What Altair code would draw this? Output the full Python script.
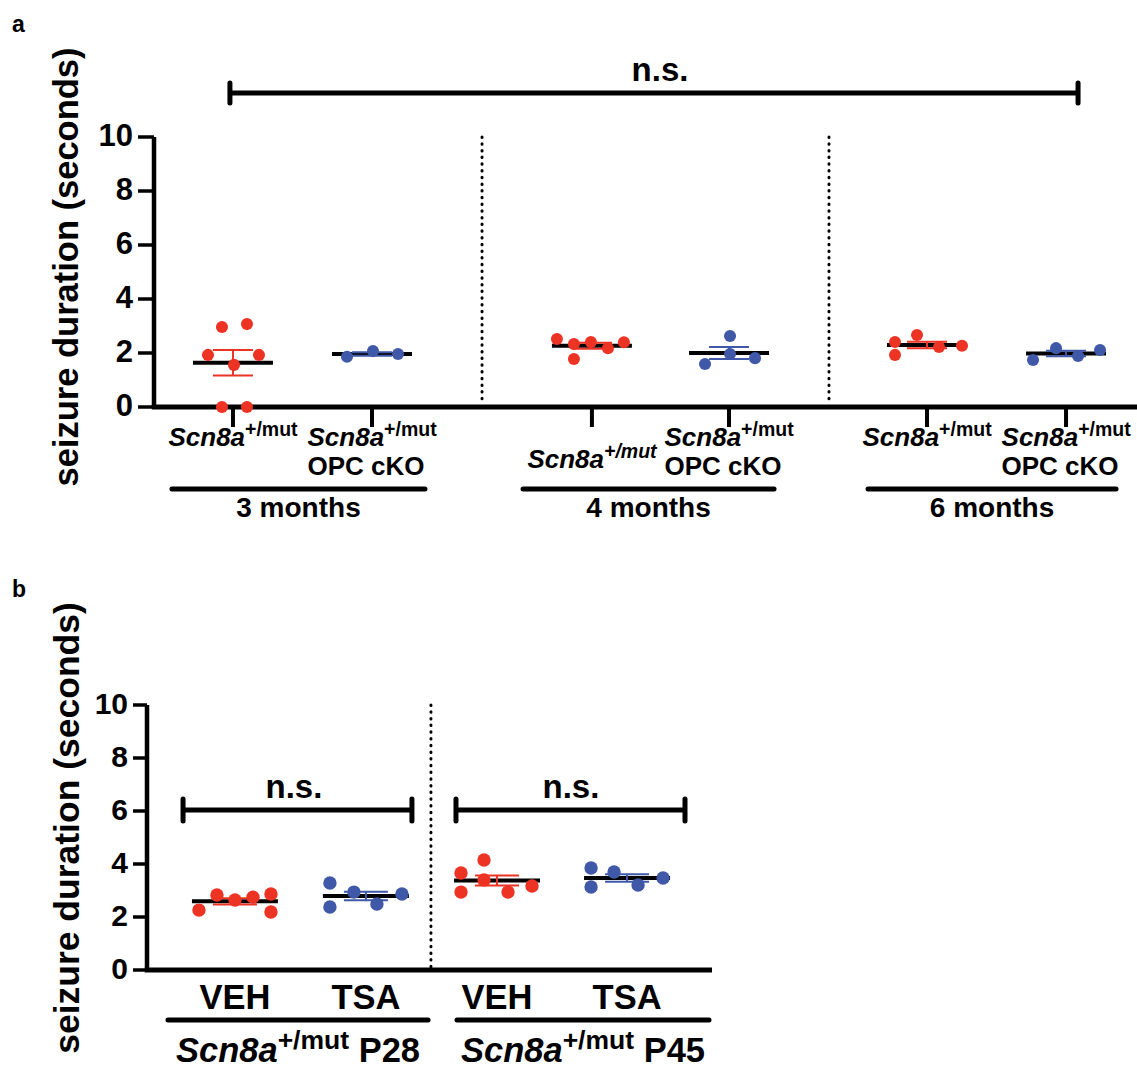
import altair as alt
import numpy as np
import pandas as pd

# ================= DATA =================
# panel a : seizure duration (seconds)
A_AGES = ["3 months", "4 months", "6 months"]
A_HET_3MO = [2.96, 3.07, 1.93, 1.93, 1.56, 0.0, 0.0]
A_CKO_3MO = [1.86, 2.07, 1.96]
A_HET_4MO = [2.52, 2.33, 1.78, 2.41, 2.18, 2.40]
A_CKO_4MO = [2.63, 1.96, 1.59, 1.81]
A_HET_6MO = [2.41, 1.93, 2.67, 2.22, 2.27]
A_CKO_6MO = [1.74, 2.18, 1.89, 2.11]
# panel b : seizure duration (seconds)
B_TREAT = ["VEH", "TSA", "VEH", "TSA"]
B_AGES = ["P28", "P45"]
B_VEH_P28 = [2.26, 2.83, 2.64, 2.75, 2.87, 2.19]
B_TSA_P28 = [3.28, 2.38, 2.94, 2.49, 2.87]
B_VEH_P45 = [3.66, 2.94, 4.15, 3.40, 2.94, 3.17]
B_TSA_P45 = [3.85, 3.13, 3.70, 3.21, 3.47]
Y_TICKS = [0, 2, 4, 6, 8, 10]

# ================= LAYOUT / STYLE =================
RED = "#EC3324"
BLUE = "#3F58A8"
FONT = "Liberation Sans"
W, H = 1137, 1068

# panel a frame (canvas pixels)
AX0, AX1, AY0, AY10 = 154, 1137, 407, 137
XA_MAX = 7.12
PXA = (AX1 - AX0) / XA_MAX
XA = alt.Scale(domain=[0, XA_MAX], range=[AX0, AX1])
YA = alt.Scale(domain=[0, 10], range=[AY0, AY10])
CAT_A = [0.572, 1.579, 3.172, 4.165, 5.599, 6.606]      # category slots
KIND_A = ["het", "cko"] * 3
# beeswarm offsets (px) of the points around their category
JIT_A = [[-11, 14, -25, 26, 1, -11, 14], [-25, 1, 26],
         [-35, -18, -18, -1, 16, 32], [1, 1, -24, 26],
         [-32, -32, -10, 12, 35], [-33, -10, 12, 34]]

# panel b frame
BX0, BX1, BY0, BY10 = 147, 712, 970, 705
XB_MAX = 4.31
PXB = (BX1 - BX0) / XB_MAX
XB = alt.Scale(domain=[0, XB_MAX], range=[BX0, BX1])
YB = alt.Scale(domain=[0, 10], range=[BY0, BY10])
CAT_B = [0.671, 1.670, 2.670, 3.662]
KIND_B = ["het", "cko"] * 2
JIT_B = [[-36, -18, 0, 18, 36, 36], [-36, -36, -12, 11, 36],
         [-36, -36, -13, -13, 11, 35], [-36, -36, -13, 11, 36]]

COLOR = alt.Color("kind:N", scale=alt.Scale(domain=["het", "cko"], range=[RED, BLUE]), legend=None)

layers = []


def txt(df, **kw):
    base = dict(font=FONT, fontWeight="bold", color="black", baseline="alphabetic")
    base.update(kw)
    return alt.Chart(df).mark_text(**base)


def points_df(series, cats, kinds, jit, px):
    rows = []
    for vals, c, k, j in zip(series, cats, kinds, jit):
        for v, dj in zip(vals, j):
            rows.append({"x": c + dj / px, "y": v, "kind": k})
    return pd.DataFrame(rows)


def stats_df(series, cats, kinds, hw, cw):
    rows = []
    for vals, c, k in zip(series, cats, kinds):
        m = float(np.mean(vals))
        s = float(np.std(vals, ddof=1) / np.sqrt(len(vals)))
        rows.append({"x": c, "xl": c - hw, "xr": c + hw, "cl": c - cw, "cr": c + cw,
                     "m": m, "lo": m - s, "hi": m + s, "kind": k})
    return pd.DataFrame(rows)


def panel(series, cats, kinds, jit, px, XS, YS, x0, x1, ytick_x, ylab_x, mean_hw, cap_hw, lab_fs, psize):
    # axes
    ax = pd.DataFrame({"y0": [0], "y1": [10]})
    layers.append(alt.Chart(ax).mark_rule(color="black", strokeWidth=4.5).encode(
        x=alt.value(x0), y=alt.Y("y0:Q", scale=YS, axis=None), y2="y1:Q"))
    layers.append(alt.Chart(ax).mark_rule(color="black", strokeWidth=5).encode(
        x=alt.value(x0 - 2.2), x2=alt.value(x1), y=alt.Y("y0:Q", scale=YS, axis=None)))
    tk = pd.DataFrame({"t": Y_TICKS, "lab": [str(t) for t in Y_TICKS]})
    layers.append(alt.Chart(tk).mark_rule(color="black", strokeWidth=3.5).encode(
        x=alt.value(ytick_x), x2=alt.value(x0), y=alt.Y("t:Q", scale=YS, axis=None)))
    layers.append(txt(tk, fontSize=lab_fs, align="right", baseline="middle").encode(
        x=alt.value(ylab_x), y=alt.Y("t:Q", scale=YS, axis=None), text="lab:N"))
    # mean and SEM
    st = stats_df(series, cats, kinds, mean_hw, cap_hw)
    layers.append(alt.Chart(st).mark_rule(color="black", strokeWidth=4).encode(
        x=alt.X("xl:Q", scale=XS, axis=None), x2="xr:Q", y=alt.Y("m:Q", scale=YS, axis=None)))
    layers.append(alt.Chart(st).mark_rule(strokeWidth=2).encode(
        x=alt.X("x:Q", scale=XS, axis=None), y=alt.Y("lo:Q", scale=YS, axis=None), y2="hi:Q", color=COLOR))
    for f in ["lo", "hi"]:
        layers.append(alt.Chart(st).mark_rule(strokeWidth=2).encode(
            x=alt.X("cl:Q", scale=XS, axis=None), x2="cr:Q",
            y=alt.Y(f + ":Q", scale=YS, axis=None), color=COLOR))
    # points
    pt = points_df(series, cats, kinds, jit, px)
    layers.append(alt.Chart(pt).mark_circle(size=psize, opacity=1).encode(
        x=alt.X("x:Q", scale=XS, axis=None), y=alt.Y("y:Q", scale=YS, axis=None), color=COLOR))


def dotted(xs, XS, ytop, ybot):
    d = pd.DataFrame({"d": xs})
    layers.append(alt.Chart(d).mark_rule(color="black", strokeWidth=3, strokeDash=[0.5, 6.2],
                                         strokeCap="round").encode(
        x=alt.X("d:Q", scale=XS, axis=None), y=alt.value(ytop), y2=alt.value(ybot)))


def bracket(xa, xb, XS, ypx, half, xt, tpx):
    d = pd.DataFrame({"x0": xa, "x1": xb})
    layers.append(alt.Chart(d).mark_rule(color="black", strokeWidth=5).encode(
        x=alt.X("x0:Q", scale=XS, axis=None), x2="x1:Q", y=alt.value(ypx)))
    c = pd.DataFrame({"c": list(xa) + list(xb)})
    layers.append(alt.Chart(c).mark_rule(color="black", strokeWidth=5, strokeCap="round").encode(
        x=alt.X("c:Q", scale=XS, axis=None), y=alt.value(ypx - half), y2=alt.value(ypx + half)))
    t = pd.DataFrame({"x": xt, "t": ["n.s."] * len(xt)})
    layers.append(txt(t, fontSize=33, align="center").encode(
        x=alt.X("x:Q", scale=XS, axis=None), y=alt.value(tpx), text="t:N"))


# ------------------------------ panel a ------------------------------
A_SERIES = [A_HET_3MO, A_CKO_3MO, A_HET_4MO, A_CKO_4MO, A_HET_6MO, A_CKO_6MO]
dotted([2.376, 4.889], XA, AY10, AY0 - 3)
bracket([0.55], [6.693], XA, 93, 10, [3.665], 81)
panel(A_SERIES, CAT_A, KIND_A, JIT_A, PXA, XA, YA, AX0, AX1, 138, 133, 40 / PXA, 20 / PXA, 31, 145)
# x ticks
layers.append(alt.Chart(pd.DataFrame({"c": CAT_A})).mark_rule(color="black", strokeWidth=4).encode(
    x=alt.X("c:Q", scale=XA, axis=None), y=alt.value(AY0), y2=alt.value(AY0 + 20)))
# category labels
W_SCN = 2.946 * 26
top_idx = [0, 1, 3, 4, 5]
top = pd.DataFrame({"x": [CAT_A[i] for i in top_idx], "a": ["Scn8a"] * 5, "s": ["+/mut"] * 5})
layers.append(txt(top, fontSize=26, fontStyle="italic", align="left", dx=-64.5).encode(
    x=alt.X("x:Q", scale=XA, axis=None), y=alt.value(446), text="a:N"))
layers.append(txt(top, fontSize=19.5, align="left", dx=-64.5 + W_SCN).encode(
    x=alt.X("x:Q", scale=XA, axis=None), y=alt.value(436), text="s:N"))
low = pd.DataFrame({"x": [CAT_A[2]], "a": ["Scn8a"], "s": ["+/mut"]})
layers.append(txt(low, fontSize=26, fontStyle="italic", align="left", dx=-64.5).encode(
    x=alt.X("x:Q", scale=XA, axis=None), y=alt.value(468), text="a:N"))
layers.append(txt(low, fontSize=19.5, fontStyle="italic", align="left", dx=-64.5 + W_SCN).encode(
    x=alt.X("x:Q", scale=XA, axis=None), y=alt.value(458), text="s:N"))
opc = pd.DataFrame({"x": [CAT_A[1], CAT_A[3], CAT_A[5]], "t": ["OPC cKO"] * 3})
layers.append(txt(opc, fontSize=26, align="left", dx=-64.5).encode(
    x=alt.X("x:Q", scale=XA, axis=None), y=alt.value(475), text="t:N"))
grp = pd.DataFrame({"x0": [0.130, 2.673, 5.172], "x1": [1.963, 4.491, 6.968], "lab": A_AGES})
grp["xc"] = (grp.x0 + grp.x1) / 2
layers.append(alt.Chart(grp).mark_rule(color="black", strokeWidth=5, strokeCap="round").encode(
    x=alt.X("x0:Q", scale=XA, axis=None), x2="x1:Q", y=alt.value(489)))
layers.append(txt(grp, fontSize=28, align="center").encode(
    x=alt.X("xc:Q", scale=XA, axis=None), y=alt.value(517), text="lab:N"))

# ------------------------------ panel b ------------------------------
B_SERIES = [B_VEH_P28, B_TSA_P28, B_VEH_P45, B_TSA_P45]
dotted([2.166], XB, BY10, BY0 - 3)
bracket([0.275, 2.357], [2.021, 4.104], XB, 810, 11, [1.121, 3.234], 798)
panel(B_SERIES, CAT_B, KIND_B, JIT_B, PXB, XB, YB, BX0, BX1, 133, 128, 43 / PXB, 22 / PXB, 30, 180)
trt = pd.DataFrame({"x": CAT_B, "t": B_TREAT})
layers.append(txt(trt, fontSize=34.5, align="center").encode(
    x=alt.X("x:Q", scale=XB, axis=None), y=alt.value(1009), text="t:N"))
bg = pd.DataFrame({"x0": [0.160, 2.365], "x1": [2.144, 4.287], "age": B_AGES,
                   "a": ["Scn8a"] * 2, "s": ["+/mut"] * 2})
bg["xc"] = (bg.x0 + bg.x1) / 2
layers.append(alt.Chart(bg).mark_rule(color="black", strokeWidth=5, strokeCap="round").encode(
    x=alt.X("x0:Q", scale=XB, axis=None), x2="x1:Q", y=alt.value(1020)))
FB, FS = 34.5, 26.5
wa, ws, wsp, wp = 2.946 * FB, 2.695 * FS, 0.278 * FB, 1.779 * FB
left = -(wa + ws + wsp + wp) / 2
layers.append(txt(bg, fontSize=FB, fontStyle="italic", align="left", dx=left).encode(
    x=alt.X("xc:Q", scale=XB, axis=None), y=alt.value(1062), text="a:N"))
layers.append(txt(bg, fontSize=FS, align="left", dx=left + wa).encode(
    x=alt.X("xc:Q", scale=XB, axis=None), y=alt.value(1049), text="s:N"))
layers.append(txt(bg, fontSize=FB, align="left", dx=left + wa + ws + wsp).encode(
    x=alt.X("xc:Q", scale=XB, axis=None), y=alt.value(1062), text="age:N"))

# ------------------------------ titles ------------------------------
ttl = pd.DataFrame({"t": ["seizure duration (seconds)"]})
layers.append(txt(ttl, fontSize=34.5, angle=270, align="center", baseline="middle").encode(
    x=alt.value(68), y=alt.value(267), text="t:N"))
layers.append(txt(ttl, fontSize=35.5, angle=270, align="center", baseline="middle").encode(
    x=alt.value(68), y=alt.value(828), text="t:N"))
pa = pd.DataFrame({"t": ["a"]})
pb = pd.DataFrame({"t": ["b"]})
layers.append(txt(pa, fontSize=23, align="left").encode(x=alt.value(12), y=alt.value(32), text="t:N"))
layers.append(txt(pb, fontSize=23, align="left").encode(x=alt.value(12), y=alt.value(597), text="t:N"))

chart = alt.layer(*layers).resolve_scale(x="independent", y="independent").properties(
    width=W, height=H, autosize=alt.AutoSizeParams(type="none"), padding=0
).configure_view(stroke=None)

chart.save("out.html", embed_options={"renderer": "svg", "actions": False})
